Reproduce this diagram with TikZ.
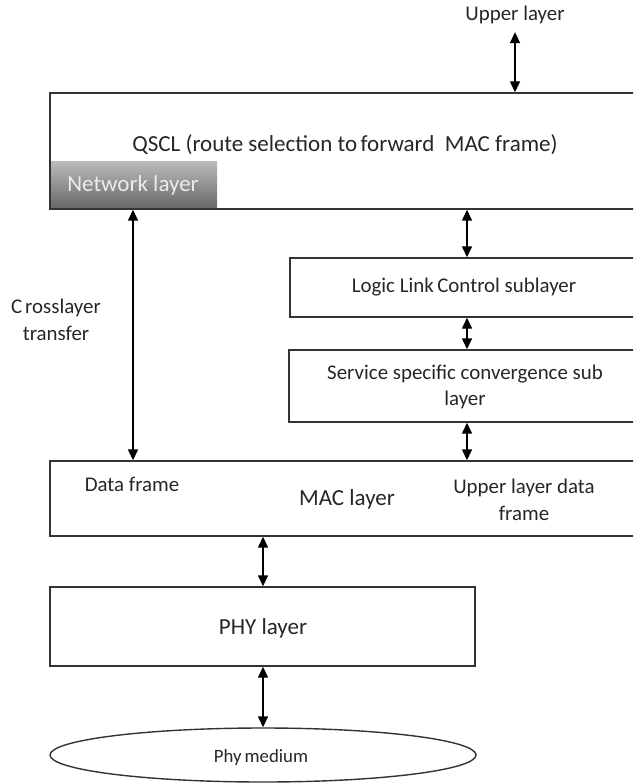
\documentclass[tikz,border=0pt]{standalone}
\usepackage{fontspec}
\setmainfont{Carlito}
\usetikzlibrary{arrows.meta,shapes.geometric}
\begin{document}
\begin{tikzpicture}[x=1pt,y=-1pt,
  box/.style={draw=black!80,line width=1.4pt,rectangle,inner sep=0pt},
  dbl/.style={{Triangle[width=10pt,length=11pt]}-{Triangle[width=10pt,length=11pt]},line width=1.4pt},
  lbl/.style={text=black!85,inner sep=0pt,align=center},
  big/.style={font=\fontsize{23}{26}\selectfont},
  mid/.style={font=\fontsize{20.9}{26.5}\selectfont},
  sml/.style={font=\fontsize{18.8}{22}\selectfont}]
\path[use as bounding box] (0,0) rectangle (633,783);
\clip (0,0) rectangle (633,783);

% shaded network-layer tab inside the QSCL block
\node[inner sep=0pt,minimum width=167pt,minimum height=47pt,
      top color=black!27,bottom color=black!60,draw=none] (net) at (133.5,185.5) {};
\node[lbl,big,text=black!8] at (133,185) {Network layer};

% layer blocks
\node[box,minimum width=610pt,minimum height=116pt] (qscl) at (355,151) {};
\node[box,minimum width=370pt,minimum height=59pt] (llc) at (475,287.5) {};
\node[box,minimum width=371pt,minimum height=72pt] (sscs) at (474.5,386) {};
\node[box,minimum width=610pt,minimum height=75pt] (mac) at (355,498.5) {};
\node[box,minimum width=425pt,minimum height=79pt] (phy) at (262.5,626.5) {};
\node[draw=black!80,line width=1.4pt,ellipse,inner sep=0pt,
      minimum width=426pt,minimum height=54pt] (med) at (263,755) {};

% texts
\node[lbl,mid] (upper) at (515,15) {Upper layer};
\node[lbl,big] at (345,145) {QSCL (route selection to\kern3.5pt forward\ \ MAC frame)};
\node[lbl,mid] at (56,320) {C\kern3pt rosslayer\\transfer};
\node[lbl,mid] at (464,287) {Logic Link\kern3.5pt Control sublayer};
\node[lbl,mid] at (465,387) {Service specific convergence sub\\layer};
\node[lbl,mid] at (132,484) {Data frame};
\node[lbl,big] at (347,499) {MAC layer};
\node[lbl,mid] at (524,500) {Upper layer data\\frame};
\node[lbl,big] at (263,628) {PHY layer};
\node[lbl,sml] at (261,757) {Phy\kern3pt medium};

% connectors
\coordinate (rx) at (467,0);
\coordinate (cx) at (133,0);
\coordinate (mx) at (263,0);
\draw[dbl] ([yshift=-8pt]upper.south) -- (upper.south |- qscl.north);
\draw[dbl] (cx |- qscl.south) -- (cx |- mac.north);
\draw[dbl] (rx |- qscl.south) -- (rx |- llc.north);
\draw[dbl] (rx |- llc.south) -- (rx |- sscs.north);
\draw[dbl] (rx |- sscs.south) -- (rx |- mac.north);
\draw[dbl] (mx |- mac.south) -- (mx |- phy.north);
\draw[dbl] (mx |- phy.south) -- (mx |- med.north);
\end{tikzpicture}
\end{document}
